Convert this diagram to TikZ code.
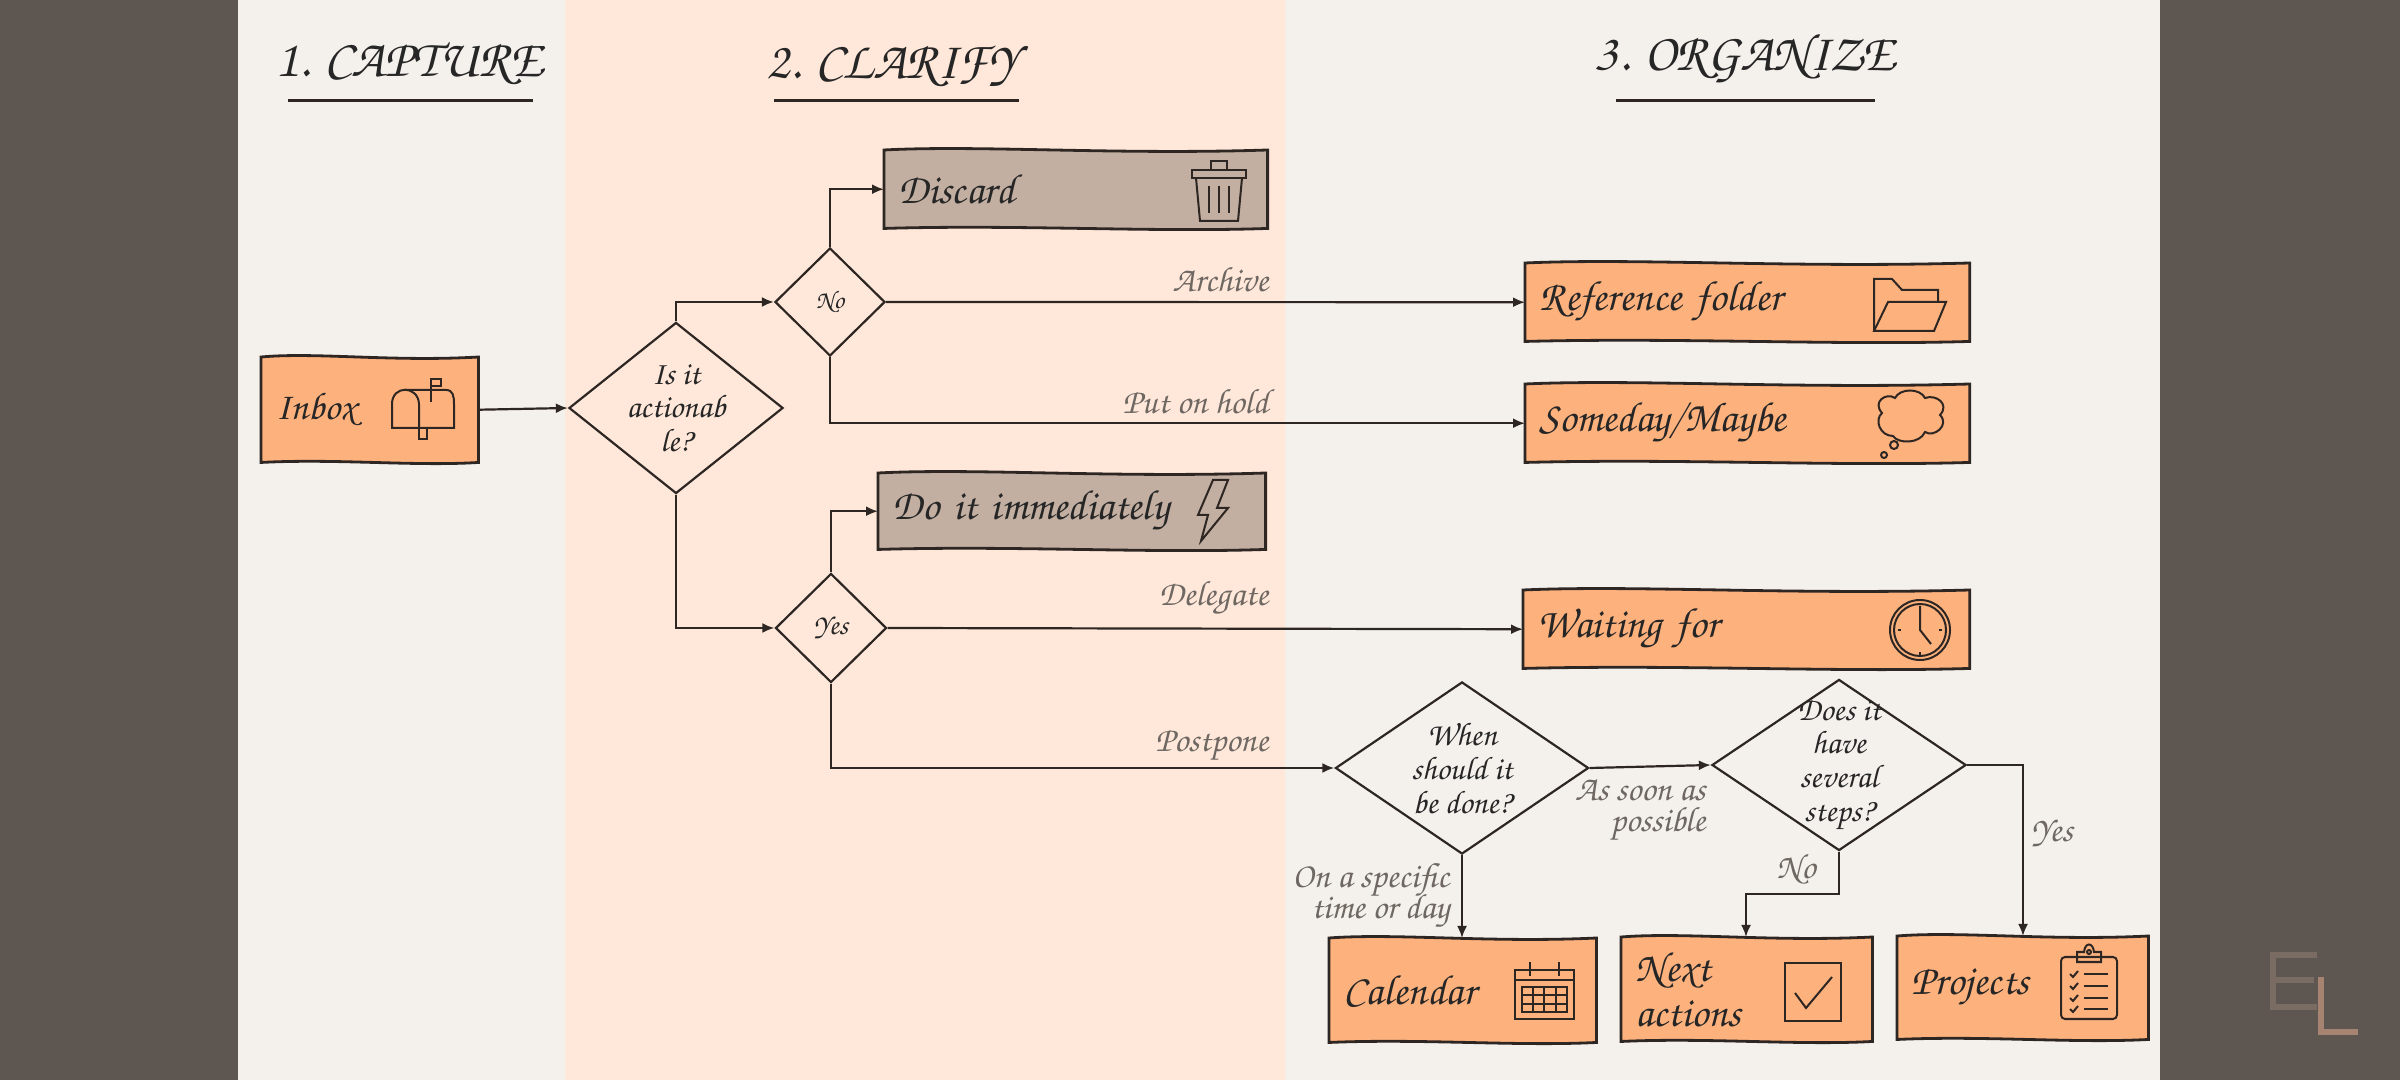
\documentclass[tikz,border=0pt]{standalone}
\usepackage[T1]{fontenc}
\usepackage{tikz}
\usetikzlibrary{arrows.meta,calc,shapes.geometric}
\definecolor{sidecol}{HTML}{5E5650}
\definecolor{panelcol}{HTML}{F4F1ED}
\definecolor{peachcol}{HTML}{FFE8DA}
\definecolor{boxcol}{HTML}{FDB27E}
\definecolor{trashcol}{HTML}{C2AFA1}
\definecolor{inkcol}{HTML}{2E2622}
\definecolor{notecol}{HTML}{6E6762}
\definecolor{markEcol}{HTML}{7A6C63}
\definecolor{markLcol}{HTML}{A68471}
\pgfdeclarelayer{bg}
\pgfsetlayers{bg,main}
\def\BoxH{0.77cm}
\newcommand{\handfont}{\fontfamily{pzc}\fontseries{mb}\fontshape{it}\selectfont}
% hand drawn edges of a box, behind its text
\newcommand{\handbox}[2]{%
	\begin{pgfonlayer}{bg}
		\path[fill=#2,draw=inkcol,line width=0.028cm]
		(#1.north west) .. controls ($(#1.north west)!0.25!(#1.north east)+(0,-5)$) and ($(#1.north west)!0.6!(#1.north east)+(0,5)$) .. (#1.north east)
		-- (#1.south east) .. controls ($(#1.south west)!0.7!(#1.south east)+(0,4)$) and ($(#1.south west)!0.35!(#1.south east)+(0,-4)$) .. (#1.south west) -- cycle;
	\end{pgfonlayer}}
\tikzset{
	boxtext/.style 2 args={anchor=north west,inner xsep=0.14cm,inner ysep=0pt,text width=#1-0.28cm,minimum height=#2,align=left,font=\handfont\fontsize{12}{12.6}\selectfont,text=black!85},
	ask/.style={diamond,draw=inkcol,line width=0.022cm,inner sep=0pt,aspect=1.25},
	asktext/.style={align=center,inner sep=0pt,text=black!85,font=\handfont\fontsize{9.3}{9.6}\selectfont},
	note/.style={font=\handfont\fontsize{10}{8.8}\selectfont,text=notecol,inner sep=0pt,align=right,execute at begin node={\lineskiplimit=-6pt}},
	head/.style={font=\handfont\fontsize{15}{18}\selectfont,text=black!85,inner sep=0pt},
	link/.style={draw=inkcol,line width=0.022cm},
	go/.style={link,-{Latex[length=0.12cm,width=0.1cm]}},
	icon/.style={draw=inkcol,line width=0.02cm},
	rule/.style={draw=inkcol,line width=0.03cm},
}
\begin{document}
\begin{tikzpicture}[x=0.01cm,y=-0.01cm]
	\useasboundingbox (0,0) rectangle (2400,1080);
	\begin{pgfonlayer}{bg}
		\fill[sidecol] (0,0) rectangle (2400,1080);
		\fill[panelcol] (238,0) rectangle (2160,1080);
		\fill[peachcol] (565,0) rectangle (1285,1080);
	\end{pgfonlayer}
	% headers
	\node[head] (capture) at (409,64) {1. CAPTURE};
	\node[head] (clarify) at (892,66) {2. CLARIFY};
	\node[head] (organize) at (1745,58) {3. ORGANIZE};
	\coordinate (capl) at (288,101); \coordinate (capr) at (533,101);
	\coordinate (clal) at (774,101); \coordinate (clar) at (1019,101);
	\coordinate (orgl) at (1616,101); \coordinate (orgr) at (1875,101);
	\draw[rule] (capl) -- (capr);
	\draw[rule] (clal) -- (clar);
	\draw[rule] (orgl) -- (orgr);
	% boxes
	\node[boxtext={2.16cm}{1.04cm}] (inbox) at (261,357) {\fontsize{11}{12}\selectfont Inbox};
	\node[boxtext={3.82cm}{0.77cm}] (discard) at (884,150) {Discard};
	\node[boxtext={3.86cm}{0.75cm}] (doit) at (878,473) {Do it immediately};
	\node[boxtext={4.43cm}{\BoxH}] (reference) at (1525,263) {Reference folder};
	\node[boxtext={4.43cm}{\BoxH}] (someday) at (1525,384) {Someday/Maybe};
	\node[boxtext={4.45cm}{\BoxH}] (waiting) at (1523,590) {Waiting for};
	\node[boxtext={2.66cm}{1.03cm}] (calendar) at (1329,938) {Calendar};
	\node[boxtext={2.5cm}{1.03cm}] (next) at (1621,937) {Next\\actions};
	\node[boxtext={2.5cm}{1.02cm}] (projects) at (1897,936) {Projects};
	\foreach \n in {inbox,reference,someday,waiting,calendar,next,projects}
		\handbox{\n}{boxcol};
	\handbox{discard}{trashcol};
	\handbox{doit}{trashcol};
	% questions
	\node[ask,minimum width=2.14cm,minimum height=1.71cm] (action) at (676,408) {};
	\node[ask,minimum width=1.10cm,minimum height=1.08cm] (no) at (830,302) {};
	\node[ask,minimum width=1.11cm,minimum height=1.09cm] (yes) at (831,628) {};
	\node[ask,minimum width=2.53cm,minimum height=1.72cm] (when) at (1462,768) {};
	\node[ask,minimum width=2.54cm,minimum height=1.71cm] (steps) at (1839,765) {};
	\node[asktext] (actiontext) at (action) {Is it\\actionab\\le?};
	\node[asktext,font=\handfont\fontsize{7.2}{9}\selectfont] (notext) at (no) {No};
	\node[asktext,font=\handfont\fontsize{8.2}{9}\selectfont] (yestext) at (yes) {Yes};
	\node[asktext] (whentext) at (when) {When\\should it\\be done?};
	\node[asktext] (stepstext) at (steps) {Does it\\have\\several\\steps?};
	% connectors
	\draw[go] (inbox.east) -- (action.west);
	\draw[go] (action.north) |- (no.west);
	\draw[go] (action.south) |- (yes.west);
	\draw[go] (no.north) |- (discard.west);
	\draw[go] (no.east) -- (reference.west);
	\draw[go] (no.south) |- (someday.west);
	\draw[go] (yes.north) |- (doit.west);
	\draw[go] (yes.east) -- (waiting.west);
	\draw[go] (yes.south) |- (when.west);
	\draw[go] (when.east) -- (steps.west);
	\draw[go] (when.south) -- (calendar.north -| when.south);
	\coordinate (bend) at (1746,894);
	\coordinate (drop) at (2023,936);
	\draw[go] (steps.south) |- (bend) -- (next.north -| bend);
	\draw[go] (steps.east) -| (drop);
	% notes
	\node[note,anchor=east] (archive) at (1269,279) {Archive};
	\node[note,anchor=east] (hold) at (1269,401) {Put on hold};
	\node[note,anchor=east] (delegate) at (1269,598) {Delegate};
	\node[note,anchor=east] (postpone) at (1269,746) {Postpone};
	\node[note,anchor=north east] (soon) at (1706,778) {As soon as\\possible};
	\node[note,anchor=north east] (specific) at (1450,862) {On a specific\\time or day};
	\node[note] (nolabel) at (1796,869) {No};
	\node[note] (yeslabel) at (2052,833) {Yes};
	% icons
	\draw[icon] (392,428) -- (392,404) .. controls (392,385) and (418,385) .. (419,404) -- (419,428) -- cycle;
	\draw[icon] (405,390) -- (446,390) .. controls (453,390) and (454,396) .. (454,404) -- (454,428) -- (419,428);
	\draw[icon] (431,402) -- (431,379) -- (441,379) -- (441,386) -- (431,386);
	\draw[icon] (419,428) -- (419,439) -- (427,439) -- (427,428);
	%
	\draw[icon] (1192,178) -- (1246,178) -- (1246,170) -- (1192,170) -- cycle;
	\draw[icon] (1211,170) -- (1211,161) -- (1227,161) -- (1227,170);
	\draw[icon] (1196,178) -- (1200,221) -- (1238,221) -- (1242,178);
	\foreach \i in {1209,1219,1229}
		\draw[icon] (\i,186) -- (\i,213);
	%
	\draw[icon] (1213,480) -- (1228,480) -- (1217,508) -- (1228,508) -- (1201,541) -- (1208,515) -- (1198,515) -- cycle;
	%
	\draw[icon] (1874,331) -- (1874,279) -- (1892,279) -- (1902,290) -- (1938,290) -- (1938,302);
	\draw[icon] (1874,331) -- (1888,302) -- (1946,302) -- (1934,331) -- cycle;
	%
	\draw[icon] (1893,436) .. controls (1880,436) and (1874,420) .. (1882,413) .. controls (1872,402) and (1886,392) .. (1895,398) .. controls (1900,388) and (1920,388) .. (1925,398) .. controls (1936,394) and (1950,404) .. (1940,415) .. controls (1950,425) and (1934,438) .. (1925,432) .. controls (1920,444) and (1898,444) .. (1893,436) -- cycle;
	\draw[icon] (1894,445) circle[radius=4];
	\draw[icon] (1884,455) circle[radius=3];
	%
	\draw[icon] (1920,630) circle[radius=30];
	\draw[icon] (1920,630) circle[radius=26];
	\draw[icon] (1920,606) -- (1920,630) -- (1931,644);
	\draw[icon] (1920,652) -- (1920,655);
	\draw[icon] (1898,630) -- (1901,630);
	\draw[icon] (1939,630) -- (1942,630);
	%
	\draw[icon] (1515,970) rectangle (1574,1019);
	\draw[icon] (1515,980) -- (1574,980);
	\draw[icon] (1530,962) -- (1530,976);
	\draw[icon] (1559,962) -- (1559,976);
	\draw[icon] (1522,987) rectangle (1567,1012);
	\foreach \i in {1533,1544,1556}
		\draw[icon] (\i,987) -- (\i,1012);
	\foreach \i in {995,1004}
		\draw[icon] (1522,\i) -- (1567,\i);
	%
	\draw[icon] (1785,963) rectangle (1841,1021);
	\draw[icon] (1795,993) -- (1806,1008) -- (1832,977);
	%
	\draw[icon,rounded corners=0.04cm] (2061,957) rectangle (2117,1019);
	\draw[icon] (2077,962) -- (2077,952) -- (2084,952) .. controls (2085,942) and (2093,942) .. (2094,952) -- (2101,952) -- (2101,962) -- cycle;
	\draw[icon] (2089,952) circle[radius=2];
	\foreach \i in {974,986,998,1009}{
		\draw[icon] (2070,\i) -- (2073,{\i+3}) -- (2078,{\i-3});
		\draw[icon] (2084,\i) -- (2108,\i);
	}
	% mark
	\draw[markEcol,line width=0.065cm] (2317,955) -- (2273,955) -- (2273,1007) -- (2317,1007);
	\draw[markEcol,line width=0.065cm] (2273,980) -- (2314,980);
	\draw[markLcol,line width=0.065cm] (2321,977) -- (2321,1032) -- (2358,1032);
\end{tikzpicture}
\end{document}
